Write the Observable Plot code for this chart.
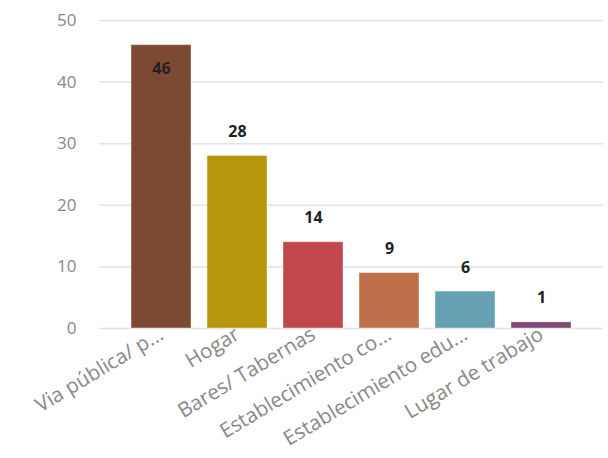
<!DOCTYPE html>
<html><head><meta charset="utf-8">
<script src="https://cdn.jsdelivr.net/npm/d3@7"></script>
<script src="https://cdn.jsdelivr.net/npm/@observablehq/plot@0.6"></script>
<style>body{margin:0;background:#fff;} svg{font-family:"Open Sans",sans-serif;}</style>
</head><body><div id="chart"></div>
<script>
const categories = ["Via pública/ p...", "Hogar", "Bares/ Tabernas", "Establecimiento co...", "Establecimiento edu...", "Lugar de trabajo"];
const values = [46, 28, 14, 9, 6, 1];
const colors = ["#7C4A33", "#B8960C", "#C0474A", "#BE704B", "#65A0B3", "#7C4B74"];
const yTicks = [0, 10, 20, 30, 40, 50];

const data = categories.map((c, i) => ({cat: c, value: values[i], color: colors[i]}));

const chart = Plot.plot({
  width: 608,
  height: 458,
  marginLeft: 99,
  marginRight: 5,
  marginTop: 20,
  marginBottom: 130,
  x: {domain: categories, paddingInner: 0.21, paddingOuter: 0.406, label: null},
  y: {domain: [0, 50], label: null},
  marks: [
    Plot.gridY(yTicks, {stroke: "#e2e2e2", strokeOpacity: 1, strokeWidth: 1.5}),
    Plot.axisY(yTicks, {tickSize: 0, tickPadding: 23, fontSize: 17, fill: "#888", label: null}),
    Plot.axisX({tickSize: 0, tickPadding: 4, tickRotate: -31, fontSize: 20.5, fill: "#888", label: null}),
    Plot.barY(data, {x: "cat", y: "value", fill: "color", stroke: "#fff", strokeOpacity: 0.4}),
    Plot.text(data, {x: "cat", y: "value", text: d => String(d.value), dy: -24, fontSize: 16, fontWeight: "bold", fill: "#222", filter: d => d.value < 40}),
    Plot.text(data, {x: "cat", y: "value", text: d => String(d.value), dy: 24, fontSize: 16, fontWeight: "bold", fill: "#222", filter: d => d.value >= 40})
  ]
});
document.getElementById("chart").appendChild(chart);
</script></body></html>
